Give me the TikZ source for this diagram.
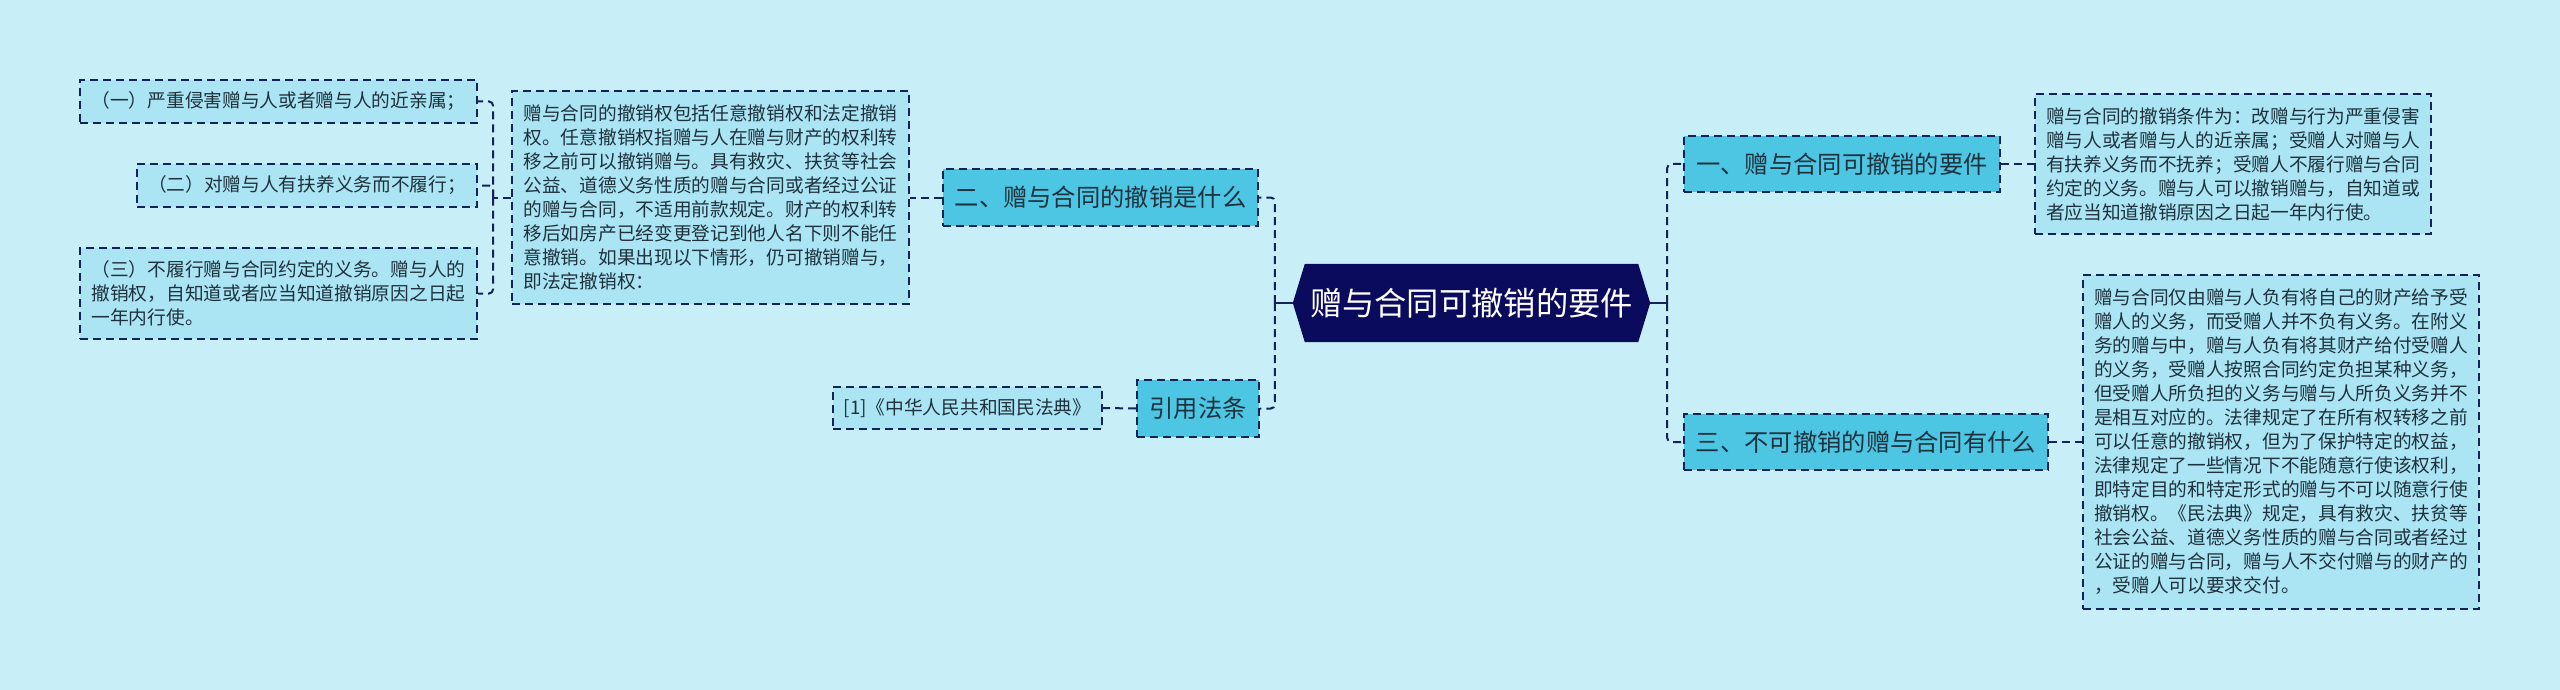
\documentclass[tikz,border=0pt]{standalone}
\usepackage{fontspec}
\setmainfont{Noto Sans CJK SC}
\usetikzlibrary{calc}
\definecolor{bgc}{HTML}{C8EFF7}
\definecolor{topicfill}{HTML}{4CC6E2}
\definecolor{detailfill}{HTML}{ABE4F2}
\definecolor{edge}{HTML}{14225A}
\definecolor{rootfill}{HTML}{0B0B5E}
\definecolor{ink}{HTML}{1E313E}
\pgfdeclarelayer{back}
\pgfsetlayers{back,main}
\begin{document}
\begin{tikzpicture}[x=1pt,y=-1pt,
  box/.style={draw=edge, line width=2pt, dash pattern=on 8pt off 5pt, inner sep=0pt, align=left, text=ink},
  topic/.style={box, fill=topicfill, font=\fontsize{24.3}{29}\selectfont},
  detail/.style={box, fill=detailfill, font=\fontsize{18.7}{24}\selectfont},
  conn/.style={draw=edge, line width=2pt, dash pattern=on 8pt off 5pt, rounded corners=4pt},
  stub/.style={draw=edge, line width=2.5pt}]
\begin{pgfonlayer}{back}
\fill[bgc] (0,0) rectangle (2560,690);
\end{pgfonlayer}
\useasboundingbox (0,0) rectangle (2560,690);

% root
\node[font=\fontsize{32.3}{38}\selectfont, text=white, minimum width=357pt, minimum height=78pt, inner sep=0pt] (root) at (1471.5,303) {赠与合同可撤销的要件};
\begin{pgfonlayer}{back}
\fill[rootfill] (root.west) -- ($(root.north west)+(12,0)$) -- ($(root.north east)+(-12,0)$) -- (root.east) -- ($(root.south east)+(-12,0)$) -- ($(root.south west)+(12,0)$) -- cycle;
\end{pgfonlayer}

% topics
\node[topic, minimum width=316pt, minimum height=56pt] (n1) at (1842,164) {一、赠与合同可撤销的要件};
\node[topic, minimum width=364pt, minimum height=56pt] (n3) at (1866,442) {三、不可撤销的赠与合同有什么};
\node[topic, minimum width=315pt, minimum height=57pt] (n2) at (1100.5,197.5) {二、赠与合同的撤销是什么};
\node[topic, minimum width=122pt, minimum height=57pt] (cite) at (1198,408.5) {引用法条};

% details
\node[detail, minimum width=396pt, minimum height=140pt] (d1) at (2233,164) {赠与合同的撤销条件为：改赠与行为严重侵害\\赠与人或者赠与人的近亲属；受赠人对赠与人\\有扶养义务而不抚养；受赠人不履行赠与合同\\约定的义务。赠与人可以撤销赠与，自知道或\\者应当知道撤销原因之日起一年内行使。};
\node[detail, minimum width=396pt, minimum height=334pt] (d3) at (2281,442) {赠与合同仅由赠与人负有将自己的财产给予受\\赠人的义务，而受赠人并不负有义务。在附义\\务的赠与中，赠与人负有将其财产给付受赠人\\的义务，受赠人按照合同约定负担某种义务，\\但受赠人所负担的义务与赠与人所负义务并不\\是相互对应的。法律规定了在所有权转移之前\\可以任意的撤销权，但为了保护特定的权益，\\法律规定了一些情况下不能随意行使该权利，\\即特定目的和特定形式的赠与不可以随意行使\\撤销权。《民法典》规定，具有救灾、扶贫等\\社会公益、道德义务性质的赠与合同或者经过\\公证的赠与合同，赠与人不交付赠与的财产的\\，受赠人可以要求交付。};
\node[detail, minimum width=397pt, minimum height=213pt] (d2) at (710.5,197.5) {赠与合同的撤销权包括任意撤销权和法定撤销\\权。任意撤销权指赠与人在赠与财产的权利转\\移之前可以撤销赠与。具有救灾、扶贫等社会\\公益、道德义务性质的赠与合同或者经过公证\\的赠与合同，不适用前款规定。财产的权利转\\移后如房产已经变更登记到他人名下则不能任\\意撤销。如果出现以下情形，仍可撤销赠与，\\即法定撤销权：};
\node[detail, minimum width=269pt, minimum height=42pt] (ref) at (967.5,408) {[1]《中华人民共和国民法典》};
\node[detail, minimum width=397pt, minimum height=43pt] (i1) at (278.5,101.5) {（一）严重侵害赠与人或者赠与人的近亲属；};
\node[detail, minimum width=340pt, minimum height=43pt] (i2) at (307,185.5) {（二）对赠与人有扶养义务而不履行；};
\node[detail, minimum width=397pt, minimum height=91pt] (i3) at (278.5,293.5) {（三）不履行赠与合同约定的义务。赠与人的\\撤销权，自知道或者应当知道撤销原因之日起\\一年内行使。};

% connectors
\coordinate (jL) at ($(root.west)+(-18,0)$);
\coordinate (jR) at ($(root.east)+(17,0)$);
\coordinate (jD) at ($(d2.west)+(-18,0)$);
\draw[stub] (root.west) -- (jL);
\draw[stub] (root.east) -- (jR);
\draw[conn] (jL) |- (n2.east);
\draw[conn] (jL) |- (cite.east);
\draw[conn] (jR) |- (n1.west);
\draw[conn] (jR) |- (n3.west);
\draw[conn] (n1.east) -- (d1.west);
\draw[conn] (n3.east) -- (d3.west);
\draw[conn] (n2.west) -- (d2.east);
\draw[conn] (cite.west) -- (ref.east);
\draw[conn] (d2.west) -- (jD);
\draw[conn] (jD) |- (i1.east);
\draw[conn] (jD) |- (i2.east);
\draw[conn] (jD) |- (i3.east);
\end{tikzpicture}
\end{document}
